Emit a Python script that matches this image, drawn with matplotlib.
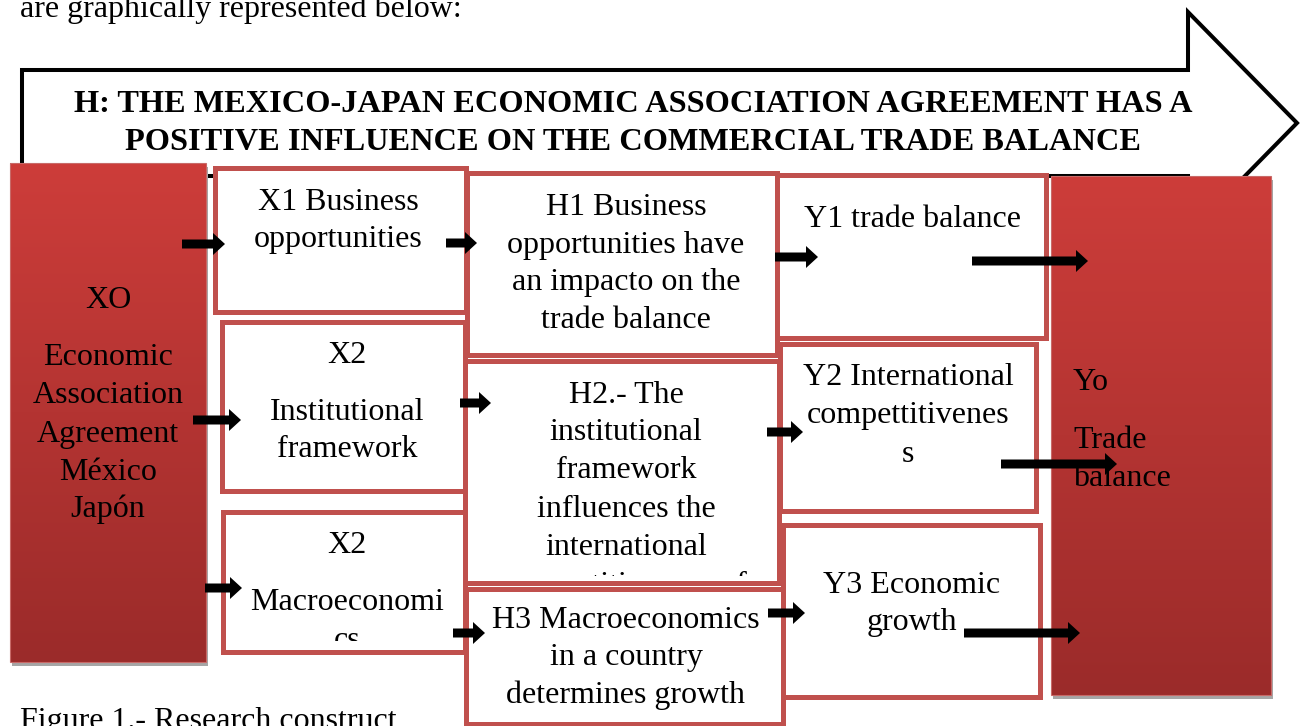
import numpy as np
import matplotlib.pyplot as plt
from matplotlib.patches import Rectangle, Polygon, FancyArrow
from matplotlib.colors import LinearSegmentedColormap
from matplotlib.transforms import Bbox, TransformedBbox


# -------------------------------------------------------
# Diagram text
# -------------------------------------------------------

intro_text = "are graphically represented below:"
caption_text = "Figure 1.- Research construct"

title_lines = ["H: THE MEXICO-JAPAN ECONOMIC ASSOCIATION AGREEMENT HAS A",
               "POSITIVE INFLUENCE ON THE COMMERCIAL TRADE BALANCE"]

xo_lines = ["XO", "Economic", "Association", "Agreement", "México", "Japón"]
yo_lines = ["Yo", "Trade", "balance"]

x_lines = [["X1 Business", "opportunities"],
           ["X2", "Institutional", "framework"],
           ["X2", "Macroeconomi", "cs"]]

h_lines = [["H1 Business", "opportunities have", "an impacto on the",
            "trade balance"],
           ["H2.- The", "institutional", "framework", "influences the",
            "international", "competitiveness of"],
           ["H3 Macroeconomics", "in a country", "determines growth"]]

y_lines = [["Y1 trade balance"],
           ["Y2 International", "compettitivenes", "s"],
           ["Y3 Economic", "growth"]]


# -------------------------------------------------------
# Layout (pixel coordinates, y downwards)
# -------------------------------------------------------

FONT = "Liberation Serif"
FS = 23
BOX_EDGE = "#C0504D"

# (x0, y0, x1, y1), text centre x, baselines, clip bottom
x_layout = [((215, 168, 466, 312), 338, [210, 247], None),
            ((222, 322, 465, 491), 347, [363, 420, 457], None),
            ((223, 512, 465, 652), 347, [553, 610, 648], 641)]

h_layout = [((467, 173, 777, 355), 626, [215, 253, 290, 328], None),
            ((465, 361, 779, 583), 626, [403, 440, 478, 517, 555, 593], 576),
            ((466, 589, 783, 724), 626, [628, 665, 703], None)]

y_layout = [((777, 175, 1046, 338), 912, [227], None),
            ((780, 344, 1036, 511), 908, [385, 423, 462], None),
            ((783, 525, 1040, 697), 912, [593, 630], None)]

# (x start, x tip, y)
arrows = [(182, 225, 244), (193, 241, 420), (205, 242, 588),
          (446, 477, 243), (460, 491, 403), (453, 485, 633),
          (775, 818, 257), (767, 803, 432), (768, 805, 613),
          (972, 1088, 261), (1001, 1117, 464), (964, 1080, 633)]


red_cmap = LinearSegmentedColormap.from_list("red", ["#CD3D3A", "#9B2B2A"])


def red_block(ax, x0, y0, x1, y1):

    ax.add_patch(Rectangle((x0 + 2, y0 + 4), x1 - x0, y1 - y0,
                           facecolor="#A6A6A6", edgecolor="none", zorder=2))

    grad = np.linspace(0, 1, 256).reshape(-1, 1)

    ax.imshow(grad, cmap=red_cmap, aspect="auto", origin="upper",
              extent=(x0, x1, y1, y0), zorder=3, interpolation="bilinear")

    ax.add_patch(Rectangle((x0, y0), x1 - x0, y1 - y0, facecolor="none",
                           edgecolor="#C86A68", linewidth=0.8, zorder=3.5))


def text_box(ax, rect, cx, baselines, clip_y, lines):

    x0, y0, x1, y1 = rect

    ax.add_patch(Rectangle((x0, y0), x1 - x0, y1 - y0, facecolor="white",
                           edgecolor=BOX_EDGE, linewidth=3.6, zorder=4))

    for line, yb in zip(lines, baselines):

        t = ax.text(cx, yb, line, ha="center", va="baseline",
                    family=FONT, fontsize=FS, color="black", zorder=5)

        if clip_y is not None:
            box = TransformedBbox(Bbox.from_extents(x0, y0, x1, clip_y),
                                  ax.transData)
            t.set_clip_box(box)
            t.set_clip_on(True)


def main():

    fig = plt.figure(figsize=(13, 7.26), dpi=100)

    ax = fig.add_axes([0, 0, 1, 1])

    ax.set_xlim(0, 1300)
    ax.set_ylim(726, 0)

    # big hypothesis arrow
    ax.add_patch(Polygon([(22, 70), (1188, 70), (1188, 12), (1297, 123),
                          (1188, 234), (1188, 176), (22, 176)],
                         closed=True, facecolor="white", edgecolor="black",
                         linewidth=2.9, joinstyle="miter", zorder=1))

    ax.text(633, 112, title_lines[0], ha="center", va="baseline",
            family=FONT, fontsize=23.3, fontweight="bold", zorder=2)
    ax.text(633, 150, title_lines[1], ha="center", va="baseline",
            family=FONT, fontsize=23.3, fontweight="bold", zorder=2)

    ax.text(20, 17, intro_text, ha="left", va="baseline",
            family=FONT, fontsize=FS, zorder=2)
    ax.text(20, 729, caption_text, ha="left", va="baseline",
            family=FONT, fontsize=FS, zorder=2)

    # red end blocks
    red_block(ax, 10, 163, 206, 662)
    red_block(ax, 1051, 176, 1271, 695)

    for line, yb in zip(xo_lines, [308, 365, 403, 442, 480, 517]):
        ax.text(108, yb, line, ha="center", va="baseline",
                family=FONT, fontsize=FS, zorder=6)

    for line, yb in zip(yo_lines, [390, 448, 486]):
        ax.text(1073, yb, line, ha="left", va="baseline",
                family=FONT, fontsize=FS, zorder=6)

    # white boxes
    for layout, texts in ((x_layout, x_lines), (h_layout, h_lines),
                          (y_layout, y_lines)):
        for (rect, cx, baselines, clip_y), lines in zip(layout, texts):
            text_box(ax, rect, cx, baselines, clip_y, lines)

    # block arrows
    for xs, xt, y in arrows:
        ax.add_patch(FancyArrow(xs, y, xt - xs, 0, width=9,
                                head_width=22, head_length=12,
                                length_includes_head=True,
                                facecolor="black", edgecolor="none",
                                zorder=10))

    ax.set_xlim(0, 1300)
    ax.set_ylim(726, 0)
    ax.axis("off")

    fig.savefig("out.png", dpi=100)


if __name__ == "__main__":
    main()
